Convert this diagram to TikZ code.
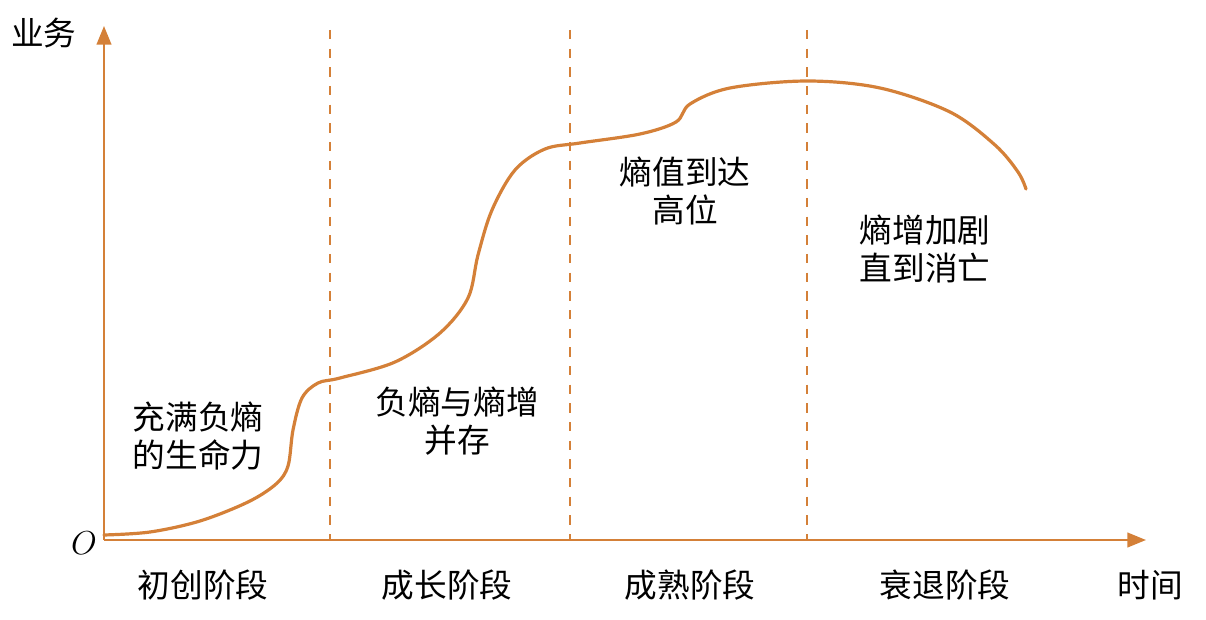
\documentclass[tikz,border=0pt]{standalone}
\usepackage{fontspec}
\newfontfamily\cjk{Noto Sans CJK SC}
\usetikzlibrary{arrows.meta}
\definecolor{org}{RGB}{212,128,56}
\tikzset{
  axis/.style={draw=org, line width=1.6pt, -{Triangle[length=14pt,width=11pt]}},
  sep/.style={draw=org, line width=1.2pt, dash pattern=on 7pt off 7pt},
  curve/.style={draw=org, line width=2.4pt, line cap=round},
  lbl/.style={font=\cjk\fontsize{24.5}{29}\selectfont, align=center, inner sep=0pt, text=black}
}
\begin{document}
\begin{tikzpicture}[x=0.75pt,y=-0.75pt]
\useasboundingbox (0,0) rectangle (1206,620);
\coordinate (O) at (104,540);
\coordinate (ytop) at (104,26);
\coordinate (xend) at (1146,540);
\draw[axis] (O) -- (ytop);
\draw[axis] (O) -- (xend);
\foreach \x/\n in {330/a,570/b,807/c}{
  \coordinate (t\n) at (\x,30);
  \coordinate (b\n) at (\x,540);
  \draw[sep] (t\n) -- (b\n);
}
\draw[curve] plot[smooth, tension=0.55] coordinates {
 (104,535) (150,532) (200,521) (248,502) (276,484) (288,466)
 (293,430) (302,398) (318,383) (340,378) (395,362) (440,333) (468,298)
 (478,255) (492,210) (515,170) (545,149) (580,143) (640,134) (676,122)
 (690,104) (730,88) (807,81) (880,88) (950,112) (995,145) (1018,172) (1026,189)};
\node[lbl] (yl) at (44,33) {业务};
\node[font=\fontsize{23}{28}\selectfont\itshape, inner sep=0pt] (ol) at (84,543) {$O$};
\node[lbl] (s1) at (203,585) {初创阶段};
\node[lbl] (s2) at (447,585) {成长阶段};
\node[lbl] (s3) at (690,585) {成熟阶段};
\node[lbl] (s4) at (945,585) {衰退阶段};
\node[lbl] (tl) at (1150,585) {时间};
\node[lbl] (d1) at (198,436) {充满负熵\\的生命力};
\node[lbl] (d2) at (457,421) {负熵与熵增\\并存};
\node[lbl] (d3) at (685,191) {熵值到达\\高位};
\node[lbl] (d4) at (925,249) {熵增加剧\\直到消亡};
\end{tikzpicture}
\end{document}
